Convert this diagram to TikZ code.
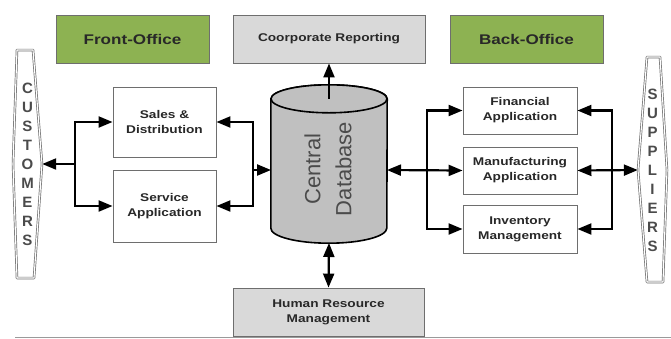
\documentclass[tikz,border=0pt]{standalone}
\usepackage{fontspec}
\setmainfont{Liberation Sans}
\newfontfamily\lbl[FakeStretch=1.22]{Liberation Sans}
\usetikzlibrary{arrows.meta}
\definecolor{ogreen}{RGB}{141,178,82}
\definecolor{lgray}{RGB}{217,217,217}
\definecolor{dbgray}{RGB}{192,192,192}
\definecolor{bord}{RGB}{110,110,110}
\definecolor{txt}{RGB}{40,40,40}
\definecolor{ltr}{RGB}{75,75,75}
\tikzset{
  hdr/.style={draw=bord, line width=0.9pt, fill=ogreen, minimum width=153pt, minimum height=48pt, font=\lbl\bfseries\fontsize{14}{16}\selectfont, text=txt, inner sep=0pt},
  gbox/.style={draw=bord, line width=0.9pt, fill=lgray, minimum height=48pt, font=\lbl\bfseries\fontsize{11.2}{15}\selectfont, text=txt, align=center, inner sep=0pt},
  wbox/.style={draw=bord, line width=0.9pt, fill=white, font=\lbl\bfseries\fontsize{11.2}{15}\selectfont, text=txt, align=center, inner sep=0pt},
  vlab/.style={align=center, font=\bfseries\fontsize{15}{19}\selectfont, text=ltr, inner sep=0pt, minimum width=29pt},
  outl/.style={draw=bord, line width=0.7pt, double=white, double distance=1.1pt, line join=round},
  conn/.style={line width=2.2pt, black, -{Triangle[length=14pt,width=11pt]}},
  conn2/.style={line width=2.2pt, black, {Triangle[length=14pt,width=11pt]}-{Triangle[length=14pt,width=11pt]}},
}
\begin{document}
\begin{tikzpicture}[x=1pt,y=-1pt]
\useasboundingbox (0,0) rectangle (671,338);
% header boxes
\node[hdr] (front) at (132.5,39) {Front-Office};
\node[gbox, minimum width=192pt] (corp) at (329,39) {Coorporate Reporting};
\node[hdr] (back) at (526.5,39) {Back-Office};
% customers / suppliers
\draw[outl] (17,50) -- (33,50) -- (42,164) -- (34,278) -- (17,278) -- (13,164) -- cycle;
\node[vlab, minimum height=228pt] (cust) at (27.5,164) {C\\U\\S\\T\\O\\M\\E\\R\\S};
\draw[outl] (647,57) -- (660,57) -- (667,170) -- (663,282) -- (647,282) -- (638,170) -- cycle;
\node[vlab, minimum height=225pt] (supp) at (652.5,170) {S\\U\\P\\P\\L\\I\\E\\R\\S};
% front office boxes
\node[wbox, minimum width=103pt, minimum height=70pt] (sales) at (164.5,122) {Sales \&\\Distribution};
\node[wbox, minimum width=103pt, minimum height=72pt] (serv) at (164.5,206) {Service\\Application};
% back office boxes
\node[wbox, minimum width=114pt, minimum height=47pt] (fin) at (520,110.5) {Financial\\Application};
\node[wbox, minimum width=114pt, minimum height=47pt] (manu) at (520,170.5) {Manufacturing\\Application};
\node[wbox, minimum width=114pt, minimum height=48pt] (inv) at (520,229) {Inventory\\Management};
% HRM
\node[gbox, minimum width=191pt] (hrm) at (328.5,312) {Human Resource\\Management};
\draw[bord!70, line width=1pt] (15,337) -- (671,337);
% central database cylinder
\node[minimum width=116pt, minimum height=129pt, inner sep=0pt] (db) at (329,163.5) {};
\draw[black, line width=1.6pt, fill=dbgray] (db.north west) -- (db.south west)
  arc[start angle=180, end angle=360, x radius=58pt, y radius=15pt] -- (db.north east)
  arc[start angle=0, end angle=180, x radius=58pt, y radius=14pt] -- cycle;
\draw[black, line width=1.6pt, fill=dbgray] (db.north) ellipse[x radius=58pt, y radius=14pt];
\node[rotate=90, align=center, font=\fontsize{22}{31}\selectfont, text=ltr] (dbt) at (328,169) {Central\\Database};
\coordinate (dbbot) at (329,243);
\coordinate (dbl) at (271,170);
\coordinate (dbr) at (387,170);
% junctions
\coordinate (jc) at (75,164);
\coordinate (jl) at (253,170);
\coordinate (jr) at (427,170);
\coordinate (js) at (612,170);
% connectors
\draw[conn] (db.north) -- (corp.south);
\draw[conn2] (dbbot) -- (hrm.north);
\draw[conn] (jc) -- (cust.east);
\draw[conn] (jc) |- (sales.west);
\draw[conn] (jc) |- (serv.west);
\draw[conn] (jl) -- (dbl);
\draw[conn] (jl) |- (sales.east);
\draw[conn] (jl) |- (serv.east);
\draw[conn2] (dbr) -- (manu.west);
\draw[conn] (jr) |- (fin.west);
\draw[conn] (jr) |- (inv.west);
\draw[conn] (js) |- (fin.east);
\draw[conn] (js) |- (inv.east);
\draw[conn2] (manu.east) -- (supp.west);
\end{tikzpicture}
\end{document}
